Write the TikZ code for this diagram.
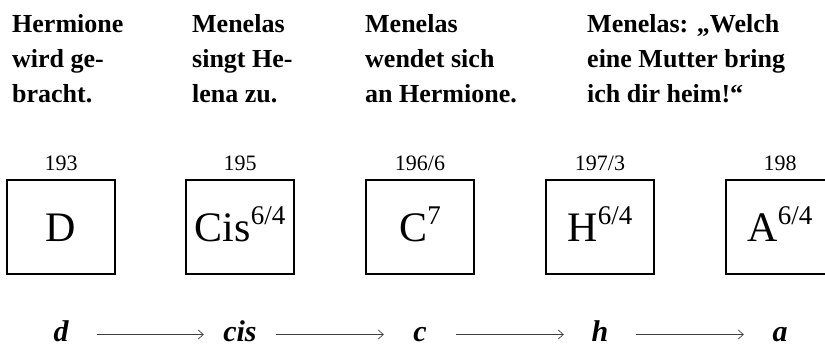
\documentclass[tikz,border=0pt]{standalone}
\usepackage{fontspec}
\setmainfont{Liberation Serif}
\usetikzlibrary{arrows.meta}
\tikzset{
  szene/.style={anchor=north west, align=left, inner sep=0pt, font=\fontsize{26}{35}\selectfont\bfseries},
  akkord/.style={draw, line width=1.5pt, minimum width=108pt, minimum height=94pt, inner sep=0pt,
    text height=28pt, text depth=0pt, font=\fontsize{42}{42}\selectfont},
  takt/.style={anchor=base, inner sep=0pt, font=\fontsize{22}{22}\selectfont},
  grund/.style={anchor=base, minimum width=72pt, inner sep=0pt, text height=13pt, text depth=0pt,
    font=\fontsize{30}{30}\selectfont\bfseries\itshape},
  folge/.style={line width=0.7pt, black!75, -{Straight Barb[length=5pt,width=9pt]}}
}
\newcommand{\lage}[1]{\raisebox{17pt}{\fontsize{27}{27}\selectfont #1}}
\begin{document}
\begin{tikzpicture}[x=1pt,y=-1pt]
\useasboundingbox (0,0) rectangle (825,346);
% Szenen
\node[szene] (s1) at (12,14.5) {Hermione\\wird ge-\\bracht.};
\node[szene] (s2) at (192,14.5) {Menelas\\singt He-\\lena zu.};
\node[szene] (s3) at (365,14.5) {Menelas\\wendet sich\\an Hermione.};
\node[szene] (s4) at (587,14.5) {Menelas: „Welch\\eine Mutter bring\\ich dir heim!“};
% Akkorde
\node[akkord] (D) at (61,227) {D};
\node[akkord] (Cis) at (240,227) {Cis\lage{6/4}};
\node[akkord] (C) at (420,227) {C\lage{7}};
\node[akkord] (H) at (600,227) {H\lage{6/4}};
\node[akkord] (A) at (780,227) {A\lage{6/4}};
\node[takt] (t193) at ([yshift=9pt]D.north) {193};
\node[takt] (t195) at ([yshift=9pt]Cis.north) {195};
\node[takt] (t196) at ([yshift=9pt]C.north) {196/6};
\node[takt] (t197) at ([yshift=9pt]H.north) {197/3};
\node[takt] (t198) at ([yshift=9pt]A.north) {198};
% Grundtoene
\node[grund] (d) at (61,341) {d};
\node[grund] (cis) at (240,341) {cis};
\node[grund] (c) at (420,341) {c};
\node[grund] (h) at (600,341) {h};
\node[grund] (a) at (780,341) {a};
\draw[folge] (d) -- (cis);
\draw[folge] (cis) -- (c);
\draw[folge] (c) -- (h);
\draw[folge] (h) -- (a);
\end{tikzpicture}
\end{document}
